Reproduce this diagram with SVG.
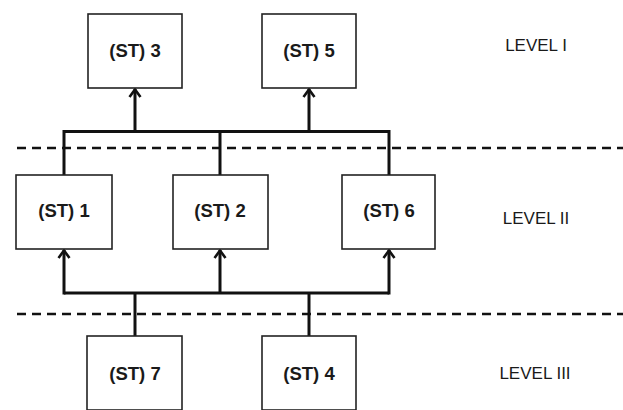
<svg xmlns="http://www.w3.org/2000/svg" width="623" height="410" viewBox="0 0 623 410">
<style>
.box{fill:#fff;stroke:#222;stroke-width:1.6}
.lbl{font-family:"Liberation Sans",Arial,sans-serif;font-weight:bold;font-size:18.5px;fill:#1a1a1a;text-anchor:middle;dominant-baseline:central}
.lvl{font-family:"Liberation Sans",Arial,sans-serif;font-size:17px;fill:#1a1a1a;text-anchor:middle;dominant-baseline:central}
.wire{fill:none;stroke:#111;stroke-width:3}
.dash{fill:none;stroke:#111;stroke-width:2.5;stroke-dasharray:9 6}
</style>
<defs>
<marker id="arr" markerWidth="12" markerHeight="14" viewBox="0 0 12 14" refX="10" refY="7" orient="auto" markerUnits="userSpaceOnUse">
<path d="M2,1.5 L9.5,7 L2,12.5" fill="none" stroke="#111" stroke-width="2.6"/>
</marker>
</defs>
<g id="dividers">
<line class="dash" x1="17" y1="148" x2="623" y2="148"/>
<line class="dash" x1="17" y1="314" x2="623" y2="314"/>
</g>
<g id="connectors">
<polyline class="wire" points="64,175 64,131.5 389,131.5 389,175"/>
<line class="wire" x1="220" y1="131.5" x2="220" y2="175"/>
<line class="wire" x1="135" y1="131.5" x2="135" y2="89" marker-end="url(#arr)"/>
<line class="wire" x1="309" y1="131.5" x2="309" y2="89" marker-end="url(#arr)"/>
<polyline class="wire" points="64,293 389,293"/>
<line class="wire" x1="64" y1="294.5" x2="64" y2="250" marker-end="url(#arr)"/>
<line class="wire" x1="220" y1="293" x2="220" y2="250" marker-end="url(#arr)"/>
<line class="wire" x1="389" y1="294.5" x2="389" y2="250" marker-end="url(#arr)"/>
<line class="wire" x1="135" y1="293" x2="135" y2="336"/>
<line class="wire" x1="309" y1="293" x2="309" y2="336"/>
</g>
<g id="st3"><rect class="box" x="88" y="14" width="94" height="74"/><text class="lbl" x="135" y="50">(ST) 3</text></g>
<g id="st5"><rect class="box" x="262" y="14" width="94" height="74"/><text class="lbl" x="309" y="50">(ST) 5</text></g>
<g id="st1"><rect class="box" x="16" y="175" width="96" height="74"/><text class="lbl" x="64" y="210">(ST) 1</text></g>
<g id="st2"><rect class="box" x="173" y="175" width="95" height="74"/><text class="lbl" x="220" y="210">(ST) 2</text></g>
<g id="st6"><rect class="box" x="342" y="175" width="93" height="74"/><text class="lbl" x="389" y="210">(ST) 6</text></g>
<g id="st7"><rect class="box" x="87" y="336" width="95" height="74"/><text class="lbl" x="135" y="373">(ST) 7</text></g>
<g id="st4"><rect class="box" x="262" y="336" width="94" height="74"/><text class="lbl" x="309" y="373">(ST) 4</text></g>
<g id="levels">
<text class="lvl" x="536" y="45">LEVEL I</text>
<text class="lvl" x="536" y="218">LEVEL II</text>
<text class="lvl" x="535" y="373">LEVEL III</text>
</g>
</svg>
